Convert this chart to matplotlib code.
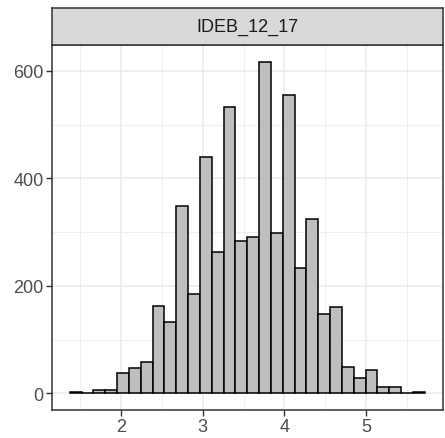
import matplotlib
matplotlib.use("Agg")
import matplotlib.pyplot as plt
import numpy as np

plt.rcParams['font.family'] = ['Liberation Sans', 'DejaVu Sans']

# histogram of IDEB_12_17, 30 bins
panel_title = "IDEB_12_17"
x_min = 1.443
x_max = 5.646
counts = [3, 0, 6, 6, 38, 47, 59, 162, 132, 348, 184, 439, 263, 532, 283,
          291, 617, 298, 554, 234, 325, 148, 160, 49, 28, 44, 12, 12, 1, 3]
x_ticks = [2, 3, 4, 5]
y_ticks = [0, 200, 400, 600]

n = len(counts)
width = (x_max - x_min) / (n - 1)
edges = np.linspace(x_min - width / 2, x_max + width / 2, n + 1)

W, H = 445, 439
fig = plt.figure(figsize=(W / 100, H / 100), dpi=100)
left, right, top, bottom = 52, 442.5, 46, 411
ax = fig.add_axes([left / W, 1 - bottom / H, (right - left) / W, (bottom - top) / H])

ax.hist(edges[:-1], bins=edges, weights=counts, facecolor="#BEBEBE",
        edgecolor="black", linewidth=1.1, zorder=3)

lo, hi = edges[0], edges[-1]
pad = (hi - lo) * 0.05
ax.set_xlim(lo - pad, hi + pad)
ymax = max(counts)
ax.set_ylim(-ymax * 0.05, ymax * 1.05)

ax.set_xticks(x_ticks)
ax.set_yticks(y_ticks)
ax.set_xticks([1.5, 2.5, 3.5, 4.5, 5.5], minor=True)
ax.set_yticks([100, 300, 500], minor=True)
ax.grid(True, which="major", color="#EBEBEB", linewidth=1.1, zorder=0)
ax.grid(True, which="minor", color="#EBEBEB", linewidth=0.6, zorder=0)
ax.set_axisbelow(True)
ax.tick_params(which="major", length=4, width=1, color="#333333",
               labelsize=13, labelcolor="#4D4D4D", pad=2)
ax.tick_params(which="minor", length=0)
for s in ax.spines.values():
    s.set_color("#333333")
    s.set_linewidth(1.1)

# facet strip
strip = fig.add_axes([left / W, 1 - top / H, (right - left) / W, (top - 9) / H])
strip.set_facecolor("#D9D9D9")
strip.set_xticks([])
strip.set_yticks([])
for s in strip.spines.values():
    s.set_color("#333333")
    s.set_linewidth(1.1)
strip.text(0.5, 0.5, panel_title, ha="center", va="center", fontsize=13,
           color="#1A1A1A", transform=strip.transAxes)

fig.savefig("out.png", dpi=100)
